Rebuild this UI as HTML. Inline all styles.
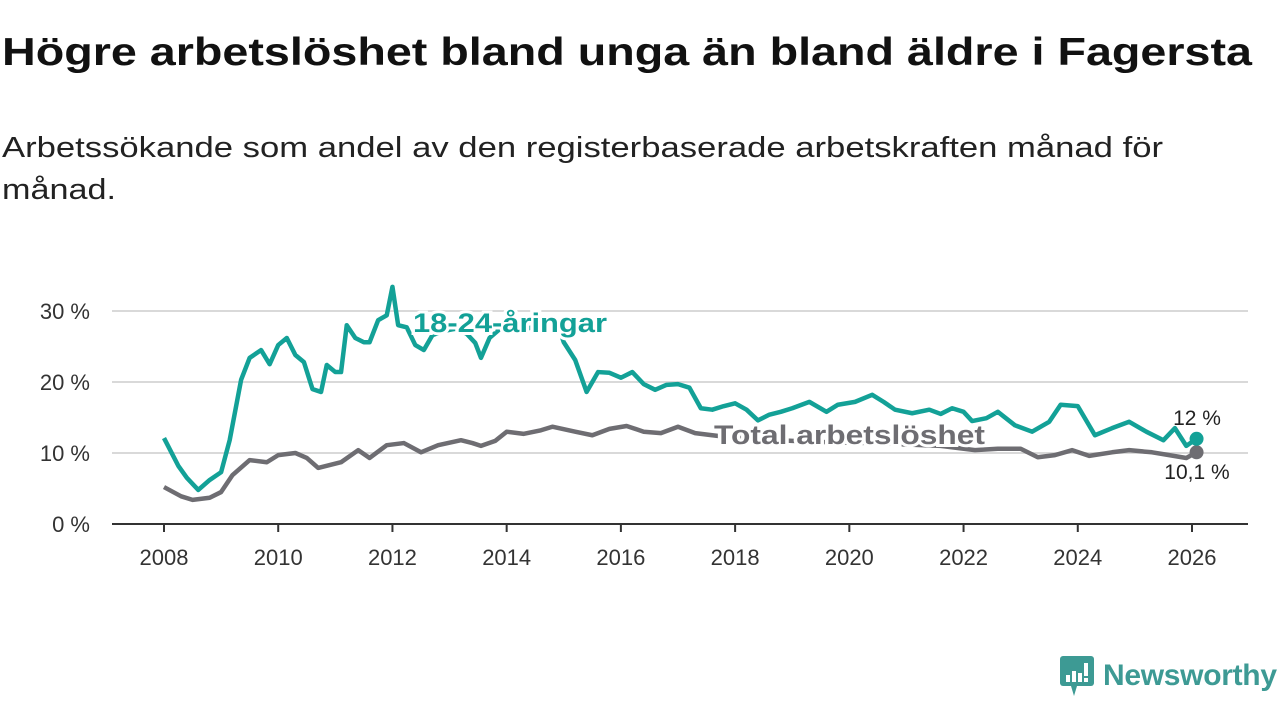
<!DOCTYPE html>
<html><head><meta charset="utf-8"><style>
body{margin:0;width:1280px;height:720px;background:#fff;font-family:"Liberation Sans","DejaVu Sans",sans-serif;overflow:hidden;position:relative}
svg{position:absolute;left:0;top:0}
</style></head><body>
<svg id="chart" width="1280" height="720">
<text x="2" y="65" font-size="39" font-weight="bold" fill="#111" textLength="1250" lengthAdjust="spacingAndGlyphs">Högre arbetslöshet bland unga än bland äldre i Fagersta</text>
<text x="2" y="157" font-size="29" fill="#222" textLength="1161" lengthAdjust="spacingAndGlyphs">Arbetssökande som andel av den registerbaserade arbetskraften månad för</text>
<text x="2" y="199" font-size="29" fill="#222" textLength="114" lengthAdjust="spacingAndGlyphs">månad.</text>
</svg>
<div style="position:absolute;left:1059px;top:655px;display:flex;align-items:center">
<svg width="36" height="42" style="position:static"><rect x="1" y="1" width="34" height="30" rx="3" fill="#3d9a94"/><polygon points="12,31 18,31 15,41" fill="#3d9a94"/><rect x="7" y="20" width="4" height="7" fill="#fff"/><rect x="13" y="16" width="4" height="11" fill="#fff"/><rect x="19" y="18" width="4" height="9" fill="#fff"/><rect x="25" y="8" width="4" height="13" fill="#fff"/><rect x="25" y="23" width="4" height="4" fill="#fff"/></svg>
<span style="font-size:30px;color:#3d9a94;margin-left:8px;font-weight:bold;letter-spacing:-0.3px">Newsworthy</span></div>
<script>
const youthX=[2008,2008.25,2008.4,2008.6,2008.8,2009,2009.15,2009.35,2009.5,2009.7,2009.85,2010,2010.15,2010.3,2010.45,2010.6,2010.75,2010.85,2011,2011.1,2011.2,2011.35,2011.5,2011.6,2011.75,2011.9,2012,2012.1,2012.25,2012.4,2012.55,2012.7,2012.9,2013.1,2013.3,2013.45,2013.55,2013.7,2013.9,2014.1,2014.3,2014.5,2014.7,2014.9,2015,2015.2,2015.4,2015.6,2015.8,2016,2016.2,2016.4,2016.6,2016.8,2017,2017.2,2017.4,2017.6,2017.8,2018,2018.2,2018.4,2018.6,2018.8,2019,2019.3,2019.6,2019.8,2020.1,2020.4,2020.6,2020.8,2021.1,2021.4,2021.6,2021.8,2022,2022.15,2022.4,2022.6,2022.9,2023.2,2023.5,2023.7,2024,2024.3,2024.6,2024.9,2025.2,2025.5,2025.7,2025.9,2026.08];
const youthV=[12.1,8.2,6.5,4.8,6.2,7.3,11.8,20.3,23.4,24.5,22.5,25.2,26.2,23.8,22.8,19,18.6,22.4,21.4,21.4,28,26.2,25.6,25.6,28.7,29.4,33.4,28,27.7,25.2,24.5,26.6,27.2,27.5,26.8,25.5,23.4,26.2,27.6,28,27.4,27.8,27,28,25.6,23.1,18.6,21.4,21.3,20.6,21.4,19.7,18.9,19.6,19.7,19.2,16.3,16.1,16.6,17,16.1,14.6,15.4,15.8,16.3,17.2,15.8,16.8,17.2,18.2,17.2,16.1,15.6,16.1,15.5,16.3,15.8,14.5,14.9,15.8,13.9,13,14.4,16.8,16.6,12.5,13.5,14.4,13,11.8,13.5,11,12];
const totalX=[2008,2008.3,2008.5,2008.8,2009,2009.2,2009.5,2009.8,2010,2010.3,2010.5,2010.7,2010.9,2011.1,2011.4,2011.6,2011.9,2012.2,2012.5,2012.8,2013.2,2013.4,2013.55,2013.8,2014,2014.3,2014.6,2014.8,2015.2,2015.5,2015.8,2016.1,2016.4,2016.7,2017,2017.3,2017.6,2017.8,2018.3,2019,2019.7,2020.4,2021,2021.6,2022.2,2022.6,2023,2023.3,2023.6,2023.9,2024.2,2024.6,2024.9,2025.3,2025.6,2025.9,2026.08];
const totalV=[5.2,3.9,3.4,3.7,4.5,6.9,9,8.7,9.7,10,9.3,7.9,8.3,8.7,10.4,9.3,11.1,11.4,10.1,11.1,11.8,11.4,11,11.7,13,12.7,13.2,13.7,13,12.5,13.4,13.8,13,12.8,13.7,12.8,12.5,12.3,12,11.7,11.5,11.4,11.2,11,10.4,10.6,10.6,9.4,9.7,10.4,9.6,10.1,10.4,10.1,9.7,9.3,10.1];
const xTicks=[2008,2010,2012,2014,2016,2018,2020,2022,2024,2026];
const yTicks=[0,10,20,30];
const NS="http://www.w3.org/2000/svg";
const svg=document.getElementById('chart');
const X=v=>164+(v-2008)*(1192-164)/18;
const Y=v=>524-v*7.1;
function mk(t,a,p){const e=document.createElementNS(NS,t);for(const k in a)e.setAttribute(k,a[k]);(p||svg).appendChild(e);return e;}
yTicks.forEach(t=>{
 if(t>0){const g=mk('line',{x1:112,x2:1248,y1:Y(t),y2:Y(t),stroke:'#d9d9d9','stroke-width':2});
 
 }
 const l=mk('text',{x:90,y:Y(t)+8,'text-anchor':'end','font-size':22,fill:'#333'});l.textContent=t+' %';
 
 
});
const ax=mk('line',{x1:112,x2:1248,y1:524,y2:524,stroke:'#333','stroke-width':2});


xTicks.forEach(t=>{
 mk('line',{x1:X(t),x2:X(t),y1:524,y2:532,stroke:'#333','stroke-width':2});
 const l=mk('text',{x:X(t),y:565,'text-anchor':'middle','font-size':22,fill:'#333'});l.textContent=t;
 
 
});
function line(xs,vs,col,name){
 const p=mk('polyline',{points:xs.map((x,i)=>X(x)+','+Y(vs[i])).join(' '),fill:'none',stroke:col,'stroke-width':4.5,'stroke-linejoin':'round'});
 
 
 const n=xs.length-1;
 const c=mk('circle',{cx:X(xs[n]),cy:Y(vs[n]),r:7,fill:col});
 
 
}
line(totalX,totalV,'#6e6d72','total-line');
line(youthX,youthV,'#13a197','youth-line');
function lab(txt,x,y,col,size,bold,anchor,name,len){
 const a={x:x,y:y,'font-size':size,'font-weight':bold?'bold':'normal',fill:col,stroke:'#fff','stroke-width':bold?6:0,'paint-order':'stroke','text-anchor':anchor||'start'};
 if(len){a.textLength=len;a.lengthAdjust='spacingAndGlyphs';}
 const t=mk('text',a);
 t.textContent=txt;
 
 
}
lab('18-24-åringar',413,332,'#13a197',27,true,'start','youth-series-label',194);
lab('Total arbetslöshet',714,444,'#6e6d72',27,true,'start','total-series-label',271);
lab('12 %',1197,425,'#222',21,false,'middle','youth-end-value');
lab('10,1 %',1197,479,'#222',21,false,'middle','total-end-value');
</script>
</body></html>
